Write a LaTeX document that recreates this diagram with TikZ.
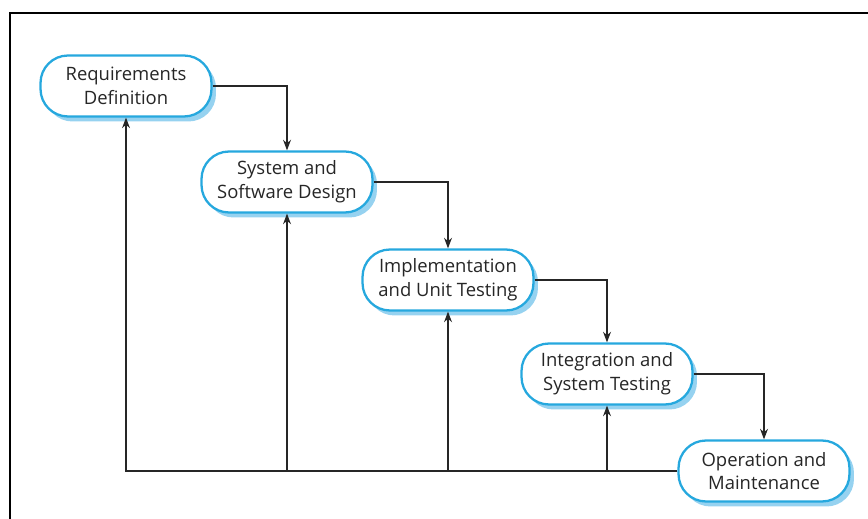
\documentclass[tikz,border=0pt]{standalone}
\usepackage{fontspec}
\setmainfont{Open Sans}
\usepackage{xcolor}
\usetikzlibrary{arrows.meta,shadows}

\definecolor{stageblue}{RGB}{38,168,222}
\definecolor{shadowblue}{RGB}{150,210,240}

\begin{document}
\begin{tikzpicture}[x=0.02cm,y=-0.02cm,
  phase/.style={draw=stageblue,line width=1.3pt,fill=white,rounded corners=0.55cm,
    minimum width=3.42cm,minimum height=1.22cm,align=center,text=black!85,
    font=\fontsize{10.5}{13.5}\selectfont,
    drop shadow={shadow xshift=0.09cm,shadow yshift=-0.1cm,fill=shadowblue,opacity=1}},
  link/.style={draw=black!85,line width=0.6pt,-{Stealth[length=6pt,width=4.5pt]}}]
\useasboundingbox (0,0) rectangle (868,519);
\clip (0,0) rectangle (868,519);
% outer frame, cut off at right and bottom
\draw[line width=1.4pt] (10,13) rectangle (880,530);

% the five phases, stepping down
\node[phase] (req) at (126,86) {Requirements\\Definition};
\node[phase] (des) at (287,182) {System and\\Software Design};
\node[phase] (imp) at (448,280) {Implementation\\and Unit Testing};
\node[phase] (int) at (607,374) {Integration and\\System Testing};
\node[phase] (ops) at (764,471) {Operation and\\Maintenance};

% forward flow
\draw[link] (req.east) -| (des.north);
\draw[link] (des.east) -| (imp.north);
\draw[link] (imp.east) -| (int.north);
\draw[link] (int.east) -| (ops.north);

% feedback along the bottom
\draw[link] (ops.west) -| (req.south);
\foreach \n in {des,imp,int}
  \draw[link] (\n.south |- ops.west) -- (\n.south);
\end{tikzpicture}
\end{document}
